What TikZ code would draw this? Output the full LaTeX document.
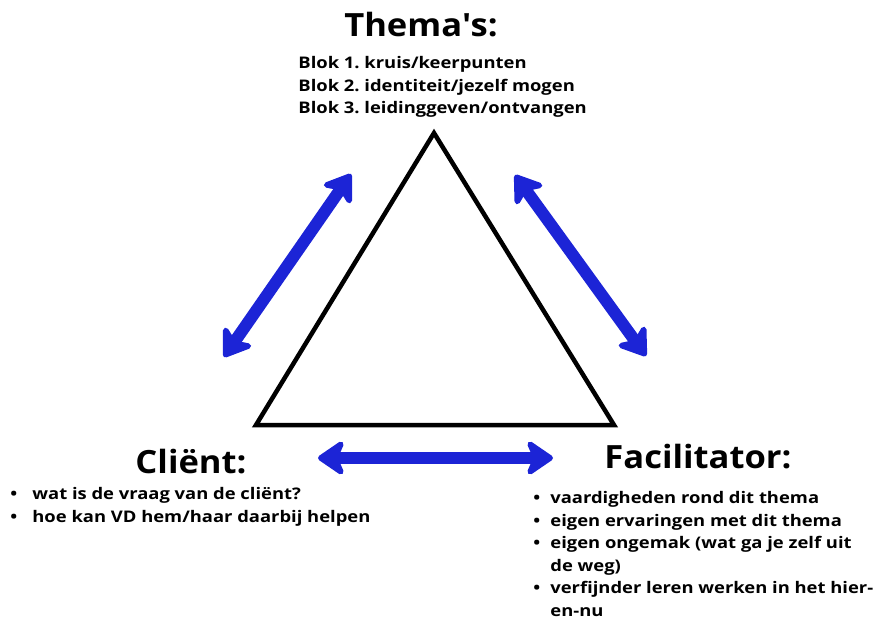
\documentclass[tikz,border=0pt]{standalone}
\usepackage{fontspec}
\setmainfont{Open Sans}
\newfontfamily\widefont{Open Sans}[FakeStretch=1.15]
\newfontfamily\headfont{Open Sans}[FakeStretch=1.08]
\usetikzlibrary{arrows.meta}
\definecolor{brushblue}{RGB}{28,36,214}

\begin{document}
\frenchspacing
\begin{tikzpicture}[
	x=1pt,y=-1pt,
	thick,
	head/.style={inner sep=0pt,font=\headfont\fontsize{32}{36}\selectfont\bfseries},
	list/.style={inner sep=0pt,align=left,anchor=north west,font=\widefont\fontsize{16}{22.6}\selectfont\bfseries},
	link/.style={draw=brushblue,line width=12pt,{Stealth[length=31pt,width=42pt,inset=9pt,round]}-{Stealth[length=31pt,width=42pt,inset=9pt,round]}}
]
\useasboundingbox (0,0) rectangle (880,620);

% triangle
\coordinate (top) at (434,133);
\coordinate (left) at (256,425);
\coordinate (right) at (614,425);
\draw[line width=4.5pt,miter limit=20] (top) -- (left) -- (right) -- cycle;

% labels
\node[head,anchor=base] (thema) at (421,37) {Thema\textquotesingle s:};
\node[list] (blok) at (298,56) {Blok 1. kruis/keerpunten\\Blok 2. identiteit/jezelf mogen\\Blok 3. leidinggeven/ontvangen};
\node[head,anchor=base] (client) at (191,473) {Cliënt:};
\node[list] (vragen) at (10,487) {\makebox[22pt][l]{\textbullet}wat is de vraag van de cliënt?\\\makebox[22pt][l]{\textbullet}hoe kan VD hem/haar daarbij helpen};
\node[head,anchor=base] (facil) at (698,468) {Facilitator:};
\node[list] (taken) at (533,491) {\makebox[17pt][l]{\textbullet}vaardigheden rond dit thema\\\makebox[17pt][l]{\textbullet}eigen ervaringen met dit thema\\\makebox[17pt][l]{\textbullet}eigen ongemak (wat ga je zelf uit\\\hspace*{17pt}de weg)\\\makebox[17pt][l]{\textbullet}verfijnder leren werken in het hier-\\\hspace*{17pt}en-nu};

% arrows
\coordinate (a1) at (351,174);
\coordinate (a2) at (224,357);
\coordinate (b1) at (515,175);
\coordinate (b2) at (646,356);
\coordinate (c1) at (318,458);
\coordinate (c2) at (553,458);
\path
(a1) edge[link] (a2)
(b1) edge[link] (b2)
(c1) edge[link] (c2)
;
\end{tikzpicture}
\end{document}
